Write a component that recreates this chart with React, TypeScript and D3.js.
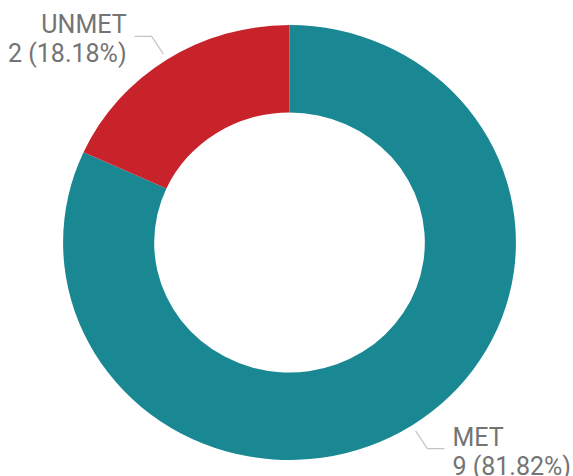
import React from "react";
import * as d3 from "d3";

const categories = ["MET", "UNMET"];
const values = [9, 2];
const colors = ["#1a8893", "#c8222a"];

const W = 573;
const H = 476;
const cx = 289.5;
const cy = 242.5;
const sx = 1.041;
const outerR = 217.5;
const innerR = 130;

export default function App() {
  const total = d3.sum(values);
  const pie = d3.pie<number>().sort(null).value((d) => d);
  const arcs = pie(values);
  const arcGen = d3.arc<d3.PieArcDatum<number>>().innerRadius(innerR).outerRadius(outerR);

  const pt = (angle: number, r: number): [number, number] => [
    cx + Math.sin(angle) * r * sx,
    cy - Math.cos(angle) * r,
  ];

  return (
    <svg
      width={W}
      height={H}
      style={{ position: "absolute", left: 0, top: 0, display: "block" }}
    >
      <g transform={`translate(${cx},${cy}) scale(${sx},1)`}>
        {arcs.map((a, i) => (
          <path key={i} d={arcGen(a) || ""} fill={colors[i]} />
        ))}
      </g>
      {arcs.map((a, i) => {
        const mid = (a.startAngle + a.endAngle) / 2;
        const p0 = pt(mid, 224);
        const p1 = pt(mid, 245);
        const right = Math.sin(mid) > 0;
        const dir = right ? 1 : -1;
        const p2: [number, number] = [p1[0] + dir * 17, p1[1]];
        const tx = p2[0] + dir * 8;
        const pct = ((values[i] / total) * 100).toFixed(2);
        return (
          <g key={"l" + i}>
            <polyline
              points={[p0, p1, p2].map((p) => p.join(",")).join(" ")}
              fill="none"
              stroke="#c4c4c4"
              strokeWidth={1.2}
            />
            <text
              x={tx}
              y={p1[1] - 3}
              textAnchor={right ? "start" : "end"}
              fontFamily="Roboto, sans-serif"
              fontSize={25}
              fill="#747474"
            >
              <tspan x={tx} y={p1[1] - 3}>{categories[i]}</tspan>
              <tspan x={tx} y={p1[1] + 26}>{`${values[i]} (${pct}%)`}</tspan>
            </text>
          </g>
        );
      })}
    </svg>
  );
}
